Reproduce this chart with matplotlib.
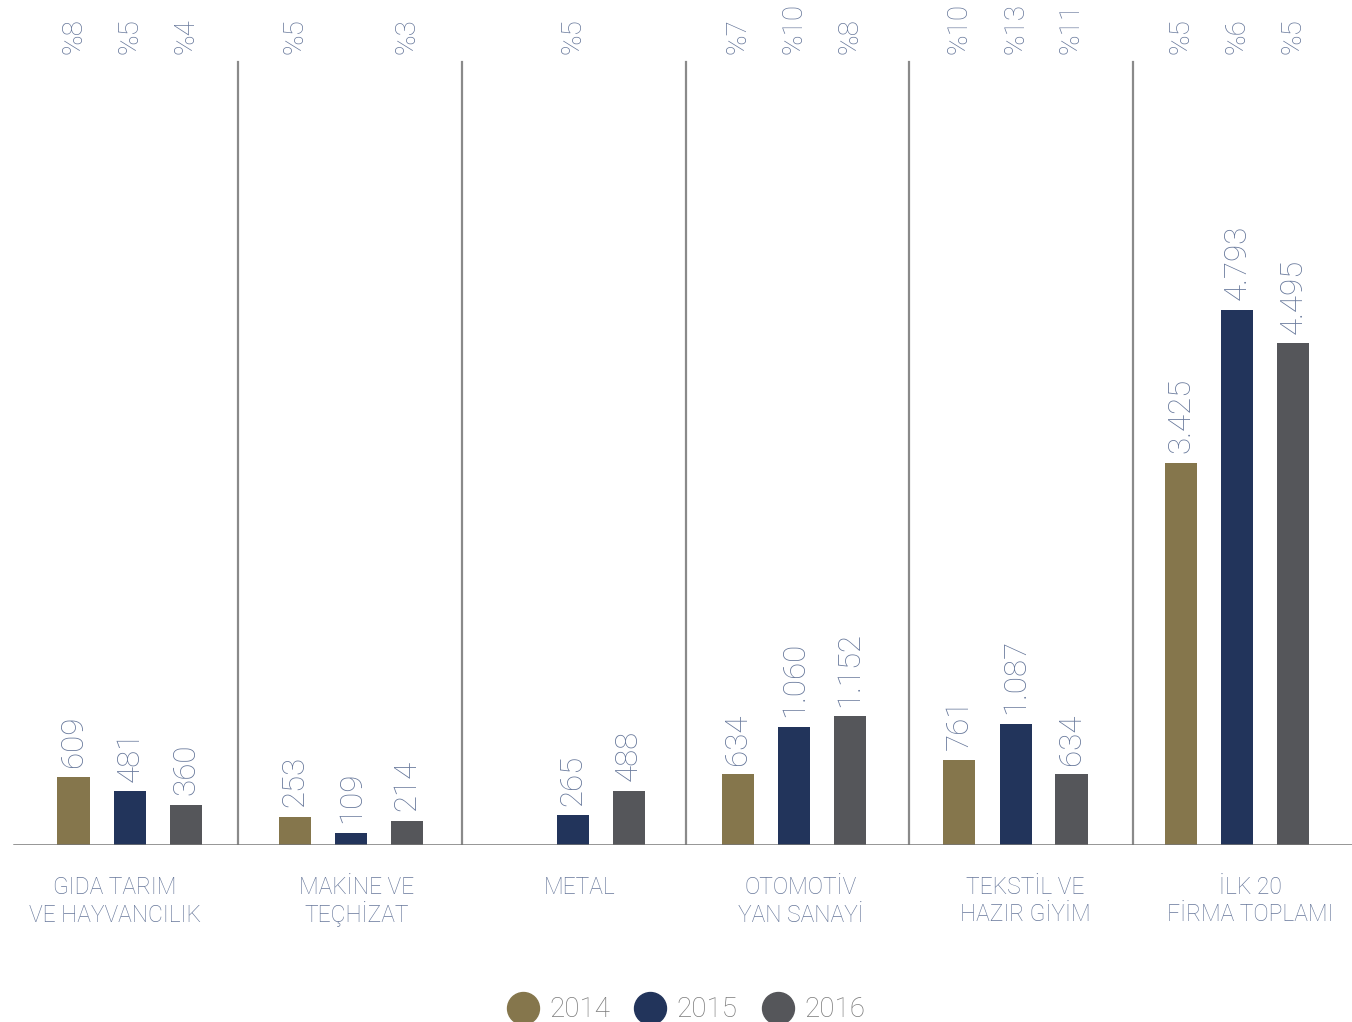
import matplotlib.pyplot as plt
import matplotlib.transforms as mtransforms
from matplotlib.lines import Line2D
import numpy as np

plt.rcParams['font.family'] = ['Roboto', 'DejaVu Sans']

categories = ['GIDA TARIM\nVE HAYVANCILIK', 'MAKİNE VE\nTEÇHİZAT', 'METAL',
              'OTOMOTİV\nYAN SANAYİ', 'TEKSTİL VE\nHAZIR GİYİM', 'İLK 20\nFİRMA TOPLAMI']
years = ['2014', '2015', '2016']
v2014 = [609, 253, np.nan, 634, 761, 3425]
v2015 = [481, 109, 265, 1060, 1087, 4793]
v2016 = [360, 214, 488, 1152, 634, 4495]
p2014 = ['%8', '%5', '', '%7', '%10', '%5']
p2015 = ['%5', '', '%5', '%10', '%13', '%6']
p2016 = ['%4', '%3', '', '%8', '%11', '%5']

colors = ['#85764C', '#22345B', '#55565A']
txt_col = '#66779A'

fig = plt.figure(figsize=(13.52, 10.22), dpi=100)
ax = fig.add_axes([0, 1 - 845 / 1022, 1, 845 / 1022])

x = np.arange(len(categories))
offs = [-0.255, 0, 0.252]
w = 0.145
blend = mtransforms.blended_transform_factory(ax.transData, ax.transAxes)

for vals, pcts, off, col in zip([v2014, v2015, v2016], [p2014, p2015, p2016], offs, colors):
    ax.bar(x + off, vals, width=w, color=col, zorder=2)
    for xi, v, p in zip(x, vals, pcts):
        if not np.isnan(v):
            lab = f'{int(v):,}'.replace(',', '.')
            ax.annotate(lab, (xi + off, v), xytext=(0, 7), textcoords='offset points',
                        rotation=90, ha='center', va='bottom', fontsize=22.5,
                        color=txt_col, fontweight='light')
        if p:
            ax.text(xi + off, 1 - 54 / 845, p, transform=blend, rotation=90, ha='center',
                    va='bottom', fontsize=20, color=txt_col, fontweight='light',
                    clip_on=False)

# group separators
for xi in x[:-1]:
    sx = 0.488 + 1.0105 * xi
    ax.plot([sx, sx], [0, 7016], color='#8a8a8a', lw=1.6, zorder=1)

ax.set_xlim(-0.587, 5.519)
ax.set_ylim(0, 7572)
ax.axhline(0, xmin=(0.587 - 0.524) / 6.106, xmax=1, color='#777777', lw=1.8, zorder=3)

# category labels are not exactly centred under their groups
lab_shift = [-0.068, 0.025, 0.033, 0.031, 0.043, 0.059]
for xi, sh, c in zip(x, lab_shift, categories):
    for k, line in enumerate(c.split('\n')):
        ax.annotate(line, (xi + sh, 0), xycoords=blend, xytext=(0, -35.3 - 20.2 * k),
                    textcoords='offset points', ha='center', va='baseline',
                    fontsize=16.5, color=txt_col, fontweight='light')

ax.axis('off')

handles = [Line2D([], [], marker='o', ls='', markersize=23, color=c) for c in colors]
leg = fig.legend(handles, years, loc='center', bbox_to_anchor=(0.507, 0.0118), ncol=3,
                 frameon=False, fontsize=20, handletextpad=0.35, columnspacing=0.85,
                 handlelength=1.2)
for t in leg.get_texts():
    t.set_color('#7a7a7a')
    t.set_fontweight('light')

fig.savefig('out.png', dpi=100)
